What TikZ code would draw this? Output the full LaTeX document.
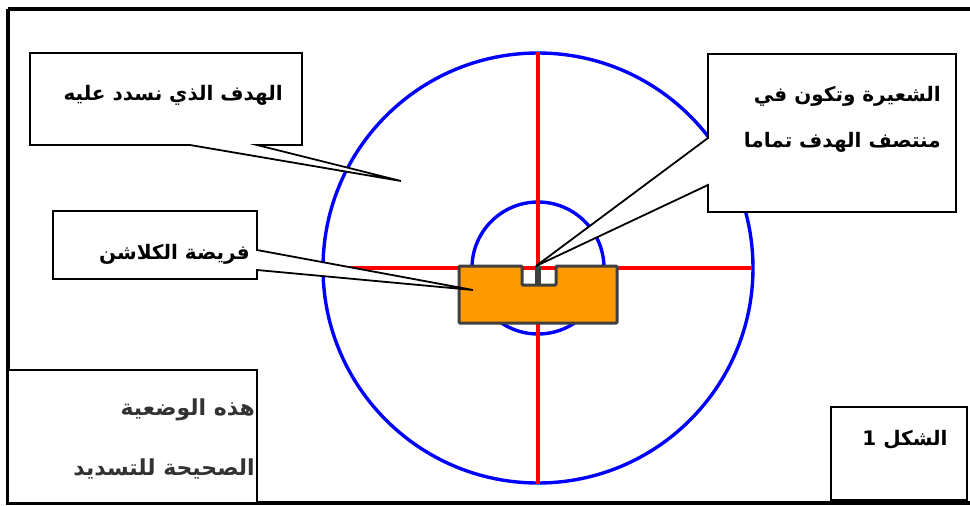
\documentclass[tikz,border=0pt]{standalone}
\usepackage{fontspec}
\TeXXeTstate=1
\newfontfamily\arabicfont[Script=Arabic]{DejaVu Sans}
\begin{document}
\begin{tikzpicture}[x=1pt,y=-1pt,
  callout/.style={draw=black,fill=white,line width=1.8pt,line join=miter},
  lbl/.style={font=\arabicfont\bfseries\fontsize{20}{24}\selectfont,inner sep=0pt},
  biglbl/.style={font=\arabicfont\bfseries\fontsize{22}{26}\selectfont,inner sep=0pt,text=black!80},
  bluec/.style={draw=blue,line width=3.4pt},
  redl/.style={draw=red,line width=3.4pt}]
\useasboundingbox (0,0) rectangle (970,506);
\fill[white] (0,0) rectangle (970,506);
% outer frame
\draw[line width=3.6pt] (8,9) -- (980,9);
\draw[line width=3.6pt] (8,9) -- (8,503) -- (980,503);
% target
\coordinate (c) at (538,268);
\draw[bluec] (c) circle[radius=215];
\draw[bluec] (c) circle[radius=66];
\draw[redl] (538,52) -- (538,484);
\draw[redl] (323,268) -- (752,268);
% rifle sight
\draw[draw=black!75,fill=orange!80!yellow,line width=3pt,rounded corners=1pt]
  (459,266) -- (522,266) -- (522,285) -- (556,285) -- (556,266) -- (617,266)
  -- (617,323) -- (459,323) -- cycle;
\node[draw=black!75,fill=black!75,line width=1pt,minimum width=5pt,minimum height=19pt,inner sep=0pt] (post) at (538,275.5) {};
% callouts
\coordinate (t1) at (401,181);
\draw[callout] (30,53) -- (302,53) -- (302,145) -- (257,145) -- (t1) -- (190,145) -- (30,145) -- cycle;
\coordinate (t2) at (536,266);
\draw[callout] (708,54) -- (956,54) -- (956,212) -- (708,212) -- (708,185) -- (t2) -- (708,138) -- cycle;
\coordinate (t3) at (473,290);
\draw[callout] (53,211) -- (257,211) -- (257,250) -- (t3) -- (257,270) -- (257,279) -- (53,279) -- cycle;
\draw[callout] (8,370) -- (257,370) -- (257,503) -- (8,503) -- cycle;
\draw[callout] (831,407) -- (967,407) -- (967,500) -- (831,500) -- cycle;
% labels
\node[lbl,anchor=east] (l1) at (283,95) {\beginR الهدف الذي نسدد عليه\endR};
\node[lbl,anchor=east] (l2a) at (941,96) {\beginR الشعيرة  وتكون في\endR};
\node[lbl,anchor=east] (l2b) at (941,142) {\beginR منتصف الهدف تماما\endR};
\node[lbl,anchor=east] (l3) at (250,254) {\beginR فريضة الكلاشن\endR};
\node[biglbl,anchor=east] (l4a) at (255,410) {\beginR هذه الوضعية\endR};
\node[biglbl,anchor=east] (l4b) at (255,469) {\beginR الصحيحة للتسديد\endR};
\node[lbl] (l5) at (905,440) {\beginR الشكل 1\endR};
\end{tikzpicture}
\end{document}
